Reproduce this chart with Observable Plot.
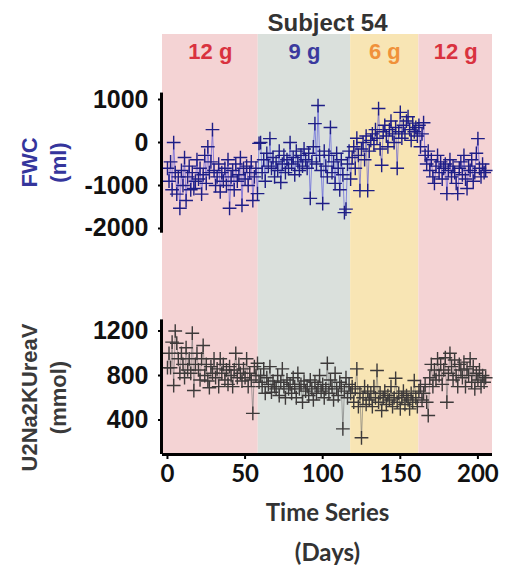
<!DOCTYPE html>
<html><head><meta charset="utf-8">
<script src="https://cdn.jsdelivr.net/npm/d3@7"></script>
<script src="https://cdn.jsdelivr.net/npm/@observablehq/plot@0.6"></script>
<style>body{margin:0;background:#fff;} svg{display:block;}</style>
</head><body><div id="chart"></div>
<script>
// ---- data ----
const title = "Subject 54";
const bandStart = [-3.2, 58.5, 118, 162];
const bandEnd = [58.5, 118, 162, 209.4];
const bandLabels = ["12 g", "9 g", "6 g", "12 g"];
const bandFill = ["#f4d3d4", "#dae0dc", "#f8e5b4", "#f4d3d4"];
const bandLabelColor = ["#d9323f", "#3a3a9e", "#f0913a", "#d9323f"];

const fwcTicks = [1000, 0, -1000, -2000];
const uTicks = [1200, 800, 400];
const xTicks = [0, 50, 100, 150, 200];

// FWC (ml), one value per day starting at day 0
const fwc = [
 -600,-900,-450,-1100,0,-700,-1200,-800,-1530,-650,
 -1000,-350,-1350,-800,-550,-1100,-700,-1070,-900,-400,
 -850,-600,-1200,-750,-300,-950,-100,-700,-450,300,
 -650,-1000,-800,-500,-1150,-700,-900,-600,-1000,-400,
 -1530,-800,-650,-1100,-500,-900,-750,-350,-1460,-600,
 -850,-550,-1000,-700,-450,-1350,-800,-600,-1190,-20,
 0,-700,-400,-900,-250,-550,90,-600,-350,-800,
 -450,-650,-200,-930,-500,-300,-700,-400,-600,0,
 -500,-350,-750,-200,-450,-650,-300,-550,-150,-400,
 -600,-250,-1300,-450,-100,440,-500,860,-300,-650,
 -1420,-200,-550,-800,-300,350,-700,-450,-950,-250,
 -600,-1100,-400,-750,-1630,-1550,-500,-200,-850,-350,
 -100,-600,100,-300,-1120,-150,0,-400,150,-1120,
 -200,50,200,-50,300,100,790,-150,-530,250,
 400,150,-100,300,500,200,0,350,-600,250,
 700,100,400,200,500,600,300,50,450,250,
 350,150,400,-100,200,460,-300,-500,-200,-650,
 -400,-800,-950,-550,-300,-700,-450,-850,-600,-500,
 -1190,-650,-400,-800,-550,-700,-950,-1190,-600,-450,
 -750,-300,-850,-1070,-550,-650,-400,-900,-700,-250,
 90,-600,-800,-500,-700,-650
];
// U2Na2KUreaV (mmol), one value per day starting at day 0
const u2 = [
 870,1000,870,1100,710,1200,1090,950,820,1000,
 900,780,1050,850,950,820,1180,665,900,1000,
 850,760,950,1070,800,900,750,690,880,820,
 950,780,860,700,950,820,900,760,850,720,
 880,800,700,850,1000,780,900,820,750,860,
 780,950,700,820,760,460,880,800,910,740,
 800,700,860,640,780,720,880,650,750,700,
 680,800,620,740,860,700,600,760,680,720,
 640,780,700,600,820,680,720,560,750,660,
 700,620,760,680,580,740,640,700,800,660,
 720,600,680,910,640,760,700,580,820,680,
 620,740,700,320,660,780,600,720,640,700,
 560,680,860,520,640,240,600,700,540,660,
 580,640,520,700,600,845,560,640,485,600,
 660,540,620,580,700,520,600,775,560,640,
 500,600,660,540,620,580,500,640,560,755,
 600,520,660,700,580,640,720,560,440,780,
 900,700,850,760,950,800,900,720,850,960,
 560,820,1000,880,760,940,800,700,900,850,
 780,920,700,860,800,950,740,880,680,820,
 760,850,700,800,740,780
];

// ---- tables built from arrays ----
const bands = bandStart.map((s, i) => ({start: s, end: bandEnd[i], label: bandLabels[i], fill: bandFill[i], lc: bandLabelColor[i]}));
const fwcData = fwc.map((v, i) => ({day: i, v}));
const u2Data = u2.map((v, i) => ({day: i, v}));
const xDomain = [bandStart[0], bandEnd[bandEnd.length - 1]];

const W = 508, ML = 162, MR = 16;
const arial = "'Liberation Sans', Arial, sans-serif";
const lato = "Lato, 'Open Sans', sans-serif";
const baseStyle = {fontFamily: arial, fontWeight: "bold", fontSize: "25px", color: "#111", background: "transparent", overflow: "visible"};

const topPlot = Plot.plot({
  width: W, height: 290,
  marginLeft: ML, marginRight: MR, marginTop: 34, marginBottom: 0,
  x: {domain: xDomain, axis: null},
  y: {domain: [-3442, 2512], axis: null},
  color: {type: "identity"},
  style: baseStyle,
  marks: [
    Plot.rect(bands, {x1: "start", x2: "end", fill: "fill"}),
    Plot.text([title], {frameAnchor: "top", lineAnchor: "bottom", dy: -4, fontSize: 24, fill: "#333", text: d => d}),
    Plot.text(bands, {x: d => (d.start + d.end) / 2, text: "label", fill: "lc", frameAnchor: "top", lineAnchor: "bottom", dy: 24, fontSize: 22}),
    Plot.line(fwcData, {x: "day", y: "v", stroke: "#3a3ad8", strokeWidth: 1, strokeOpacity: 0.55}),
    Plot.dot(fwcData, {x: "day", y: "v", symbol: "plus", r: 4.5, stroke: "#1e1e86", strokeWidth: 1.4}),
    Plot.ruleX([xDomain[0]], {y1: 1150, y2: -2110, stroke: "#000", strokeWidth: 3, dx: -1}),
    Plot.axisY({ticks: fwcTicks, label: null, tickSize: 4, tickPadding: 10, tickFormat: d => String(d), fontSize: 25, stroke: "#000", strokeWidth: 2}),
    Plot.text(["FWC\n(ml)"], {frameAnchor: "left", textAnchor: "middle", rotate: -90, dx: -120, lineAnchor: "middle", lineHeight: 1.3, fontSize: 22, fill: "#35359c", text: d => d})
  ]
});

const bottomPlot = Plot.plot({
  width: W, height: 286,
  marginLeft: ML, marginRight: MR, marginTop: 0, marginBottom: 122,
  x: {domain: xDomain, axis: null},
  y: {domain: [90, 1564], axis: null},
  color: {type: "identity"},
  style: baseStyle,
  marks: [
    Plot.rect(bands, {x1: "start", x2: "end", fill: "fill"}),
    Plot.line(u2Data, {x: "day", y: "v", stroke: "#707070", strokeWidth: 1, strokeOpacity: 0.6}),
    Plot.dot(u2Data, {x: "day", y: "v", symbol: "plus", r: 4.5, stroke: "#3d3a3a", strokeWidth: 1.4}),
    Plot.ruleX([xDomain[0]], {y1: 1300, y2: 90, stroke: "#000", strokeWidth: 3, dx: -1}),
    Plot.ruleY([90], {stroke: "#000", strokeWidth: 3}),
    Plot.axisY({ticks: uTicks, label: null, tickSize: 4, tickPadding: 10, tickFormat: d => String(d), fontSize: 25, stroke: "#000", strokeWidth: 2}),
    Plot.axisX({ticks: xTicks, label: null, tickSize: 5, tickPadding: 5, tickFormat: d => String(d), fontSize: 24, fontFamily: lato, fontWeight: "bold", stroke: "#000", strokeWidth: 2}),
    Plot.text(["U2Na2KUreaV\n(mmol)"], {frameAnchor: "left", textAnchor: "middle", rotate: -90, dx: -120, dy: 25, lineAnchor: "middle", lineHeight: 1.3, fontSize: 22, fill: "#3a3a3a", text: d => d}),
    Plot.text(["Time Series\n(Days)"], {frameAnchor: "bottom", lineAnchor: "bottom", dy: 106, lineHeight: 1.65, fontSize: 24, fontFamily: lato, fontWeight: "bold", fill: "#333", text: d => d})
  ]
});

const el = document.getElementById("chart");
el.appendChild(topPlot);
el.appendChild(bottomPlot);
</script>
</body></html>
